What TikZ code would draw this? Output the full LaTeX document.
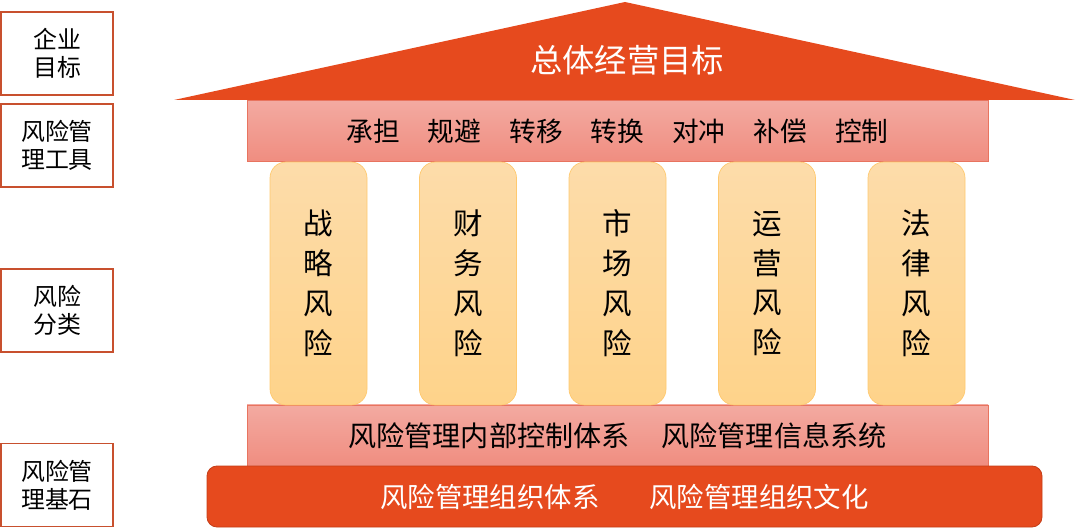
\documentclass[tikz,border=0pt]{standalone}
\usepackage{fontspec}
\setmainfont{Noto Sans CJK SC}
\usetikzlibrary{positioning}
\definecolor{roofred}{HTML}{E64A1E}
\definecolor{roofline}{HTML}{C43E18}
\definecolor{bartop}{HTML}{F3AAA1}
\definecolor{barbottom}{HTML}{F08D80}
\definecolor{barline}{HTML}{E8745F}
\definecolor{pillartop}{HTML}{FDDCAA}
\definecolor{pillarbottom}{HTML}{FED38A}
\definecolor{pillarline}{HTML}{FFC96F}
\definecolor{labelline}{HTML}{C8502E}
\newcommand{\pillarnode}[3]{
  \node[pillar] (#1) at (#2,6.1625) {#3};
}
\tikzset{
  label box/.style = {draw=labelline, line width=0.8pt, fill=white,
                      minimum width=2.8cm, minimum height=2.075cm,
                      align=center, font=\fontsize{17pt}{20pt}\selectfont},
  pillar/.style    = {draw=pillarline, line width=0.5pt, rounded corners=0.4cm,
                      top color=pillartop, bottom color=pillarbottom,
                      minimum width=2.425cm, minimum height=6.075cm,
                      align=center, font=\fontsize{21pt}{28.4pt}\selectfont},
  beam/.style      = {draw=barline, line width=0.5pt,
                      top color=bartop, bottom color=barbottom,
                      minimum width=18.525cm, minimum height=1.53cm,
                      font=\fontsize{19pt}{22pt}\selectfont}
}

\begin{document}
\begin{tikzpicture}
  \useasboundingbox (0,0) rectangle (27,13.25);
  % left labels
  \node[label box] (goal)  at (1.425,11.9125) {企业\\目标};
  \node[label box] (tools) at (1.425,9.6125)  {风险管\\理工具};
  \node[label box] (kinds) at (1.425,5.4875)  {风险\\分类};
  \node[label box] (basis) at (1.425,1.125)   {风险管\\理基石};
  % roof
  \fill[roofred] (4.35,10.75) -- (15.625,13.2) -- (26.875,10.75) -- cycle;
  \node[text=white, font=\fontsize{23pt}{26pt}\selectfont] (aim) at (15.675,11.75) {总体经营目标};
  % beams
  \node[beam] (toolbar) at (15.4375,9.975)
    {承担\hspace{0.7cm}规避\hspace{0.7cm}转移\hspace{0.7cm}转换\hspace{0.7cm}对冲\hspace{0.7cm}补偿\hspace{0.7cm}控制};
  \node[beam, font=\fontsize{20pt}{22pt}\selectfont] (ctrlbar) at (15.4375,2.3625)
    {风险管理内部控制体系\hspace{0.8cm}风险管理信息系统};
  % pillars
  \pillarnode{strategy}{7.9625}{战\\略\\风\\险}
  \pillarnode{finance}{11.7}{财\\务\\风\\险}
  \pillarnode{market}{15.4375}{市\\场\\风\\险}
  \pillarnode{operate}{19.175}{运\\营\\风\\险}
  \pillarnode{law}{22.9125}{法\\律\\风\\险}
  % base
  \node[draw=roofline, line width=0.6pt, fill=roofred, rounded corners=0.25cm,
        minimum width=20.875cm, minimum height=1.525cm, text=white,
        font=\fontsize{19.5pt}{22pt}\selectfont] (base) at (15.6125,0.8375)
    {风险管理组织体系\hspace{1.25cm}风险管理组织文化};
\end{tikzpicture}
\end{document}
